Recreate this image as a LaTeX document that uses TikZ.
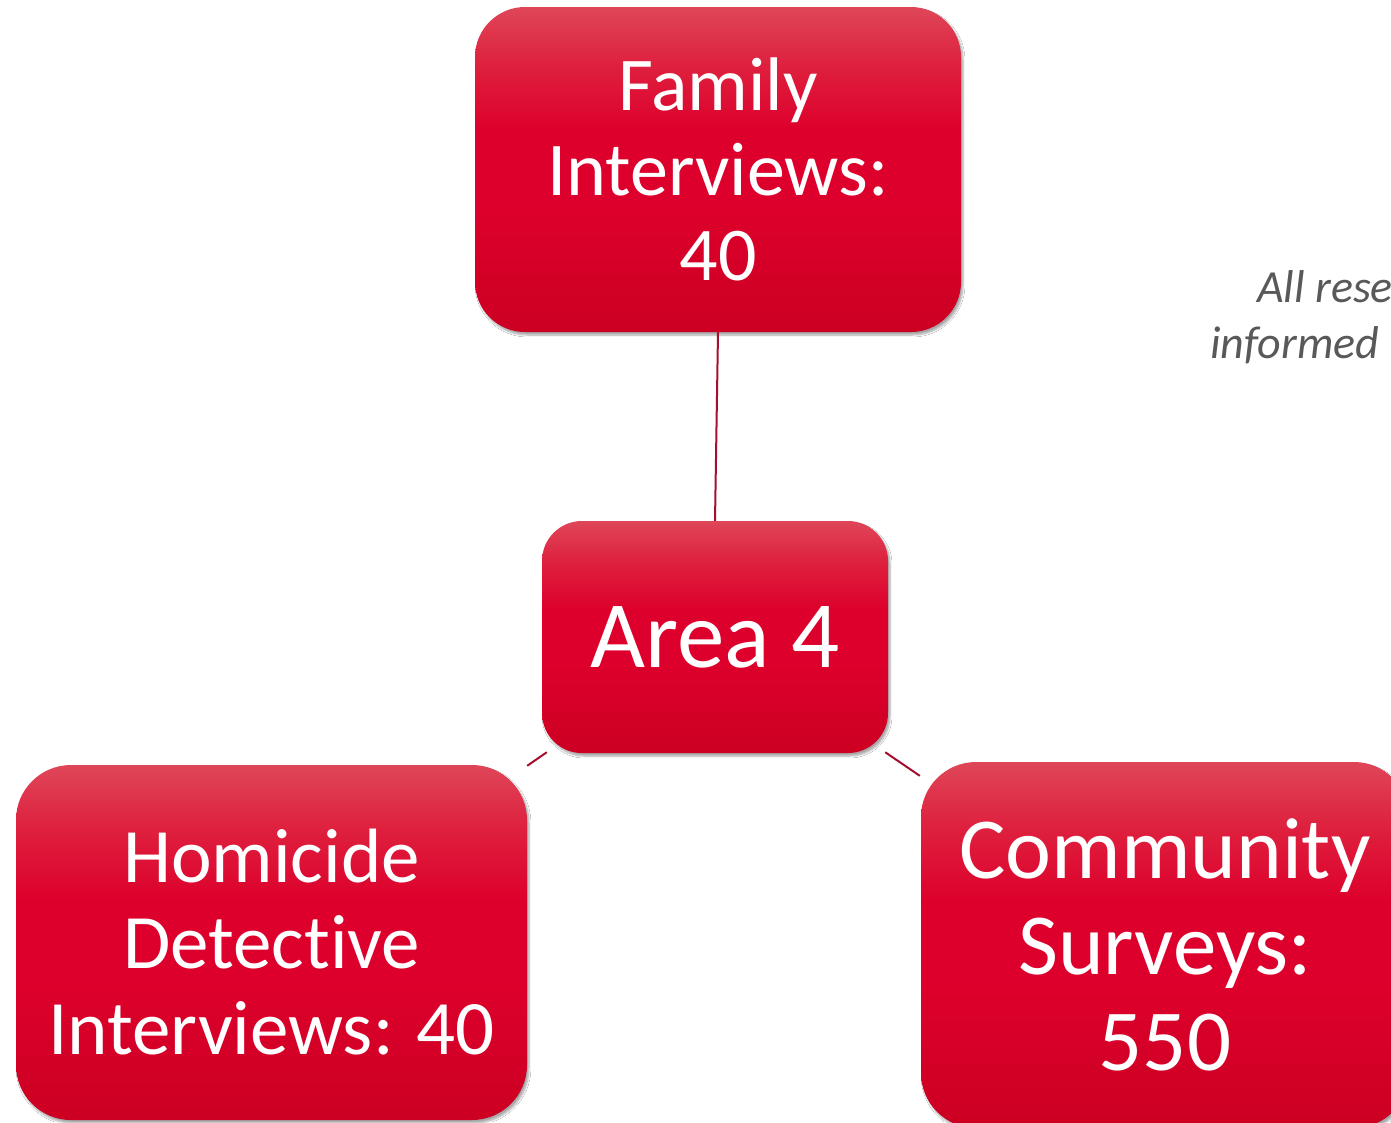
\documentclass[tikz,border=0pt]{standalone}
\usepackage{fontspec}
\setmainfont[RawFeature=-liga]{Carlito}
\usetikzlibrary{calc,shadows.blur}
\definecolor{boxtop}{RGB}{223,70,88}
\definecolor{boxup}{RGB}{222,32,62}
\definecolor{boxmid}{RGB}{221,0,44}
\definecolor{boxbot}{RGB}{204,0,34}
\definecolor{linkred}{RGB}{165,15,45}
\definecolor{notegray}{RGB}{89,89,89}
\pgfdeclareverticalshading{boxshade}{100bp}{color(0bp)=(boxbot); color(25bp)=(boxbot);
  color(45bp)=(boxmid); color(56bp)=(boxmid); color(66bp)=(boxup); color(75bp)=(boxtop); color(100bp)=(boxtop)}
\tikzset{
  redbox/.style={rectangle, rounded corners=#1, inner sep=0pt, align=center,
    text=white, shading=boxshade,
    blur shadow={shadow blur steps=6, shadow xshift=2pt, shadow yshift=-3pt, shadow opacity=35}},
  link/.style={draw=linkred, line width=2pt},
  note/.style={text=notegray, inner sep=0pt, anchor=base west, font=\fontsize{46}{56}\selectfont\itshape}
}
\begin{document}
\begin{tikzpicture}[x=1pt,y=-1pt]
\useasboundingbox (0,0) rectangle (1391,1122);
\clip (0,0) rectangle (1391,1122);
\fill[white] (0,0) rectangle (1391,1122);

\node[redbox=50pt, minimum width=486pt, minimum height=325pt,
  font=\fontsize{76}{85}\selectfont] (fam) at (718,169.5) {Family\\Interviews:\\40};
\node[redbox=40pt, minimum width=346pt, minimum height=232pt,
  font=\fontsize{95}{110}\selectfont] (area) at (715,637) {Area 4};
\node[redbox=55pt, minimum width=511pt, minimum height=355pt,
  font=\fontsize{77}{86}\selectfont] (hom) at (271.5,942.5) {Homicide\\Detective\\Interviews: 40};
\node[redbox=55pt, minimum width=488pt, minimum height=366pt,
  font=\fontsize{87}{96}\selectfont] (comm) at (1165,945) {Community\\Surveys:\\550};

\draw[link] (fam.south) -- (area.north);
\draw[link] ($(area.south west)+(5,-1)$) -- ($(hom.north east)+(0,1)$);
\draw[link] ($(area.south east)+(-3,-1)$) -- ($(comm.north west)+(-1,14)$);

\node[note] (n1) at (1257,302) {All rese};
\node[note] (n2) at (1210,358) {informed};
\end{tikzpicture}
\end{document}
